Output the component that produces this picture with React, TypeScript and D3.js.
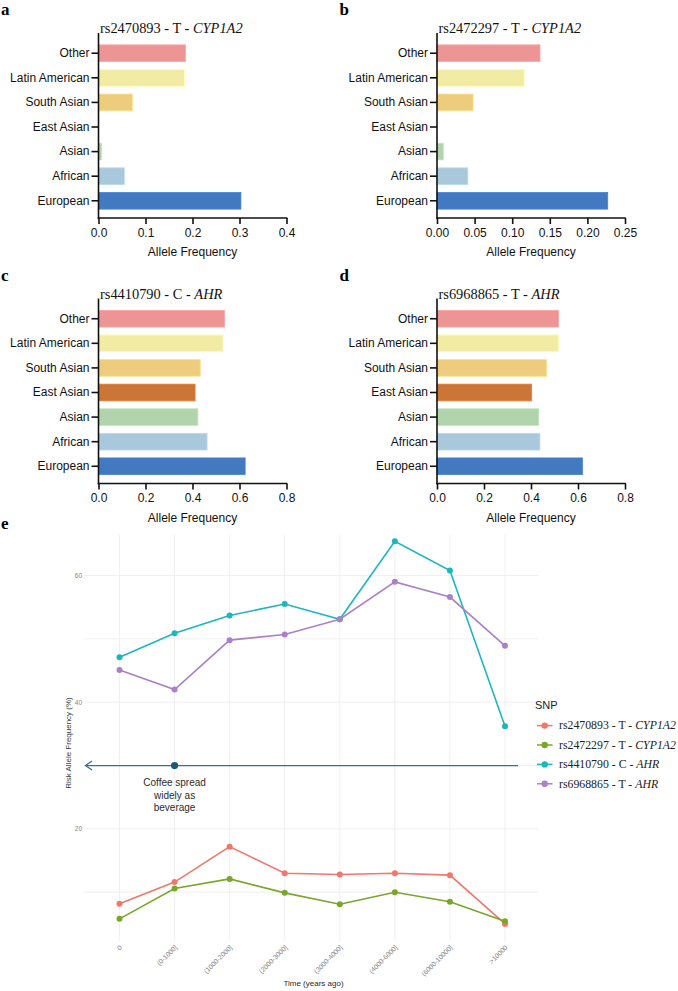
import React, { useEffect, useRef } from 'react';
import * as d3 from 'd3';

// populations (top to bottom in the bar panels)
const populations = ['Other', 'Latin American', 'South Asian', 'East Asian', 'Asian', 'African', 'European'];
const popColors = ['#ED9594', '#F1EBA3', '#EDCD7D', '#CB7537', '#B1D4AC', '#A9C8DB', '#4279C0'];

// allele frequencies per panel
const freqA = [0.185, 0.183, 0.072, 0, 0.0065, 0.055, 0.303];
const freqB = [0.137, 0.116, 0.048, 0, 0.0084, 0.041, 0.227];
const freqC = [0.536, 0.53, 0.433, 0.411, 0.423, 0.462, 0.624];
const freqD = [0.517, 0.517, 0.467, 0.403, 0.433, 0.438, 0.619];

const ticksA = [0, 0.1, 0.2, 0.3, 0.4];
const ticksB = [0, 0.05, 0.1, 0.15, 0.2, 0.25];
const ticksCD = [0, 0.2, 0.4, 0.6, 0.8];

// panel e
const timeBins = ['0', '(0-1000]', '(1000-2000]', '(2000-3000]', '(3000-4000]', '(4000-6000]', '(6000-10000]', '>10000'];
const snpNames = ['rs2470893 - T - ', 'rs2472297 - T - ', 'rs4410790 - C - ', 'rs6968865 - T - '];
const snpGenes = ['CYP1A2', 'CYP1A2', 'AHR', 'AHR'];
const snpColors = ['#F0776C', '#78A72A', '#1DB6BE', '#AB80C6'];
const rs2470893 = [8.2, 11.6, 17.2, 13.0, 12.8, 13.0, 12.7, 5.0];
const rs2472297 = [5.8, 10.6, 12.1, 9.9, 8.1, 10.0, 8.5, 5.4];
const rs4410790 = [47.1, 50.9, 53.7, 55.5, 53.1, 65.4, 60.8, 36.2];
const rs6968865 = [45.1, 42.0, 49.8, 50.7, 53.1, 59.0, 56.6, 48.9];
const yTicksE = [20, 40, 60];
const yGridE = [10, 20, 30, 40, 50, 60];
const coffeeLevel = 30;
const coffeeBin = '(0-1000]';
const coffeeText = ['Coffee spread', 'widely as', 'beverage'];

const SANS = '"Liberation Sans", Arial, sans-serif';
const SERIF = '"Liberation Serif", "Times New Roman", serif';

export default function App() {
  const svgRef = useRef<SVGSVGElement>(null);

  useEffect(() => {
    const svg = d3.select(svgRef.current);
    svg.selectAll('*').remove();

    function barPanel(
      ox: number, oy: number, letter: string, snp: string, gene: string,
      values: number[], ticks: number[], fmt: string
    ) {
      const axisX = ox + 98.5;
      const baseY = oy + 218;
      const g = svg.append('g');

      const x = d3.scaleLinear().domain([0, ticks[ticks.length - 1]]).range([axisX, axisX + 188]);
      const y = d3.scaleBand<string>().domain(populations).range([oy + 37, oy + 217]).padding(0.32);

      g.append('text')
        .attr('x', ox + 1).attr('y', oy + 15)
        .style('font-family', SERIF).style('font-weight', 'bold').style('font-size', '17px')
        .text(letter);

      const title = g.append('text')
        .attr('x', axisX + 1.5).attr('y', oy + 33)
        .style('font-family', SERIF).style('font-size', '14.4px').attr('fill', '#111');
      title.append('tspan').text(snp);
      title.append('tspan').style('font-style', 'italic').text(gene);

      g.selectAll('.bar')
        .data(values)
        .enter()
        .append('rect')
        .attr('x', axisX)
        .attr('y', (_, i) => y(populations[i]) as number)
        .attr('width', d => x(d) - axisX)
        .attr('height', y.bandwidth())
        .attr('fill', (_, i) => popColors[i])
        .attr('stroke', (d, i) => (d > 0 ? d3.color(popColors[i])!.brighter(0.25).formatHex() : 'none'))
        .attr('stroke-width', 0.8);

      const xAxis = g.append('g')
        .attr('transform', `translate(0,${baseY})`)
        .call(d3.axisBottom(x).tickValues(ticks).tickFormat(d3.format(fmt)).tickSize(6).tickPadding(4).tickSizeOuter(0));
      xAxis.select('.domain').remove();
      xAxis.selectAll('line').attr('stroke', '#111').attr('stroke-width', 1.6);
      xAxis.selectAll('text').style('font-family', SANS).style('font-size', '12px').attr('fill', '#111');
      g.append('line')
        .attr('x1', axisX - 0.8).attr('x2', axisX + 188.8).attr('y1', baseY).attr('y2', baseY)
        .attr('stroke', '#111').attr('stroke-width', 1.6);

      const yAxis = g.append('g')
        .attr('transform', `translate(${axisX},0)`)
        .call(d3.axisLeft(y).tickSize(7).tickPadding(2).tickSizeOuter(0));
      yAxis.select('.domain').remove();
      yAxis.selectAll('line').attr('stroke', '#111').attr('stroke-width', 1.6);
      yAxis.selectAll('text').style('font-family', SANS).style('font-size', '12px').attr('fill', '#111');
      g.append('line')
        .attr('x1', axisX).attr('x2', axisX).attr('y1', oy + 33).attr('y2', baseY + 0.8)
        .attr('stroke', '#111').attr('stroke-width', 1.6);

      g.append('text')
        .attr('x', axisX + 94).attr('y', oy + 256)
        .attr('text-anchor', 'middle')
        .style('font-family', SANS).style('font-size', '12px').attr('fill', '#111')
        .text('Allele Frequency');
    }

    barPanel(0, 0, 'a', 'rs2470893 - T - ', 'CYP1A2', freqA, ticksA, '.1f');
    barPanel(338.5, 0, 'b', 'rs2472297 - T - ', 'CYP1A2', freqB, ticksB, '.2f');
    barPanel(0, 265.5, 'c', 'rs4410790 - C - ', 'AHR', freqC, ticksCD, '.1f');
    barPanel(338.5, 265.5, 'd', 'rs6968865 - T - ', 'AHR', freqD, ticksCD, '.1f');

    // panel e
    const e = svg.append('g');
    const left = 84, right = 539, top = 535, bottom = 941;
    const x = d3.scalePoint<string>().domain(timeBins).range([119.5, 505]);
    const y = d3.scaleLinear().domain([2.3, 66.4]).range([bottom, top]);

    e.append('text')
      .attr('x', 1).attr('y', 529)
      .style('font-family', SERIF).style('font-weight', 'bold').style('font-size', '17px')
      .text('e');

    e.selectAll('.hgrid')
      .data(yGridE)
      .enter()
      .append('line')
      .attr('x1', left).attr('x2', right)
      .attr('y1', d => y(d)).attr('y2', d => y(d))
      .attr('stroke', '#ececec').attr('stroke-width', 0.8);
    e.selectAll('.vgrid')
      .data(timeBins)
      .enter()
      .append('line')
      .attr('x1', d => x(d) as number).attr('x2', d => x(d) as number)
      .attr('y1', top).attr('y2', bottom)
      .attr('stroke', '#ececec').attr('stroke-width', 0.8);

    e.selectAll('.ytick')
      .data(yTicksE)
      .enter()
      .append('text')
      .attr('x', left - 2).attr('y', d => y(d) + 2.3)
      .attr('text-anchor', 'end')
      .style('font-family', SANS).style('font-size', '6.5px').attr('fill', '#858585')
      .text(d => d);

    e.selectAll('.xtick')
      .data(timeBins)
      .enter()
      .append('text')
      .attr('transform', d => `translate(${(x(d) as number) + 3},${bottom + 7}) rotate(-45)`)
      .attr('text-anchor', 'end')
      .style('font-family', SANS).style('font-size', '6.8px').attr('fill', '#858585')
      .text(d => d);

    e.append('text')
      .attr('transform', `translate(71,743) rotate(-90)`)
      .attr('text-anchor', 'middle')
      .style('font-family', SANS).style('font-size', '8px').attr('fill', '#3a3a3a')
      .text('Risk Allele Frequency (%)');
    e.append('text')
      .attr('x', (left + right) / 2 + 2).attr('y', 986)
      .attr('text-anchor', 'middle')
      .style('font-family', SANS).style('font-size', '8px').attr('fill', '#2a2a2a')
      .text('Time (years ago)');

    // coffee annotation
    const ay = y(coffeeLevel);
    e.append('line')
      .attr('x1', 518).attr('x2', 86).attr('y1', ay).attr('y2', ay)
      .attr('stroke', '#3B6F8F').attr('stroke-width', 1.3);
    e.append('path')
      .attr('d', `M${92},${ay - 4.5} L${85.5},${ay} L${92},${ay + 4.5}`)
      .attr('fill', 'none').attr('stroke', '#3B6F8F').attr('stroke-width', 1.3);
    e.append('circle')
      .attr('cx', x(coffeeBin) as number).attr('cy', ay).attr('r', 3.6)
      .attr('fill', '#1D5678');
    e.selectAll('.coffee')
      .data(coffeeText)
      .enter()
      .append('text')
      .attr('x', x(coffeeBin) as number)
      .attr('y', (_, i) => ay + 20.5 + i * 12.5)
      .attr('text-anchor', 'middle')
      .style('font-family', SANS).style('font-size', '10px').attr('fill', '#2b2b2b')
      .text(d => d);

    const series = [rs2470893, rs2472297, rs4410790, rs6968865];
    const line = d3.line<number>()
      .x((_, i) => x(timeBins[i]) as number)
      .y(d => y(d));
    series.forEach((vals, k) => {
      e.append('path')
        .attr('d', line(vals))
        .attr('fill', 'none')
        .attr('stroke', snpColors[k])
        .attr('stroke-width', 1.6);
    });
    series.forEach((vals, k) => {
      e.selectAll(`.pt${k}`)
        .data(vals)
        .enter()
        .append('circle')
        .attr('cx', (_, i) => x(timeBins[i]) as number)
        .attr('cy', d => y(d))
        .attr('r', 3)
        .attr('fill', snpColors[k]);
    });

    // legend
    const lg = e.append('g');
    lg.append('text')
      .attr('x', 535).attr('y', 709)
      .style('font-family', SANS).style('font-size', '11px').attr('fill', '#222')
      .text('SNP');
    snpNames.forEach((name, k) => {
      const ly = 725.6 + k * 19.4;
      lg.append('line')
        .attr('x1', 537).attr('x2', 552.5).attr('y1', ly).attr('y2', ly)
        .attr('stroke', snpColors[k]).attr('stroke-width', 1.5);
      lg.append('circle')
        .attr('cx', 544.7).attr('cy', ly).attr('r', 3.2)
        .attr('fill', snpColors[k]);
      const t = lg.append('text')
        .attr('x', 559).attr('y', ly + 3.8)
        .style('font-family', SERIF).style('font-size', '11.8px').attr('fill', '#222');
      t.append('tspan').text(name);
      t.append('tspan').style('font-style', 'italic').text(snpGenes[k]);
    });
  }, []);

  return (
    <svg
      ref={svgRef}
      width={678}
      height={991}
      style={{ position: 'absolute', left: 0, top: 0, background: '#fff', display: 'block' }}
    />
  );
}
